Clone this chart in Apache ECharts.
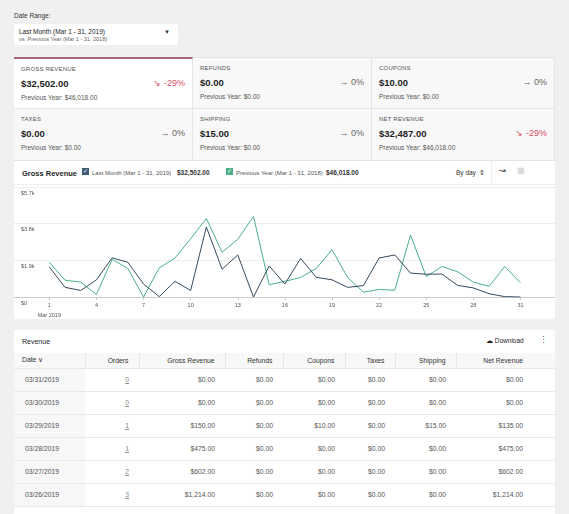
<!DOCTYPE html>
<html>
<head>
<meta charset="utf-8">
<script src="https://cdn.jsdelivr.net/npm/echarts@6/dist/echarts.min.js"></script>
<style>
body{margin:0;width:569px;height:514px;background:#f0f0f0;font-family:"Liberation Sans",Arial,sans-serif;color:#1e1e1e;overflow:hidden;position:relative}
.abs{position:absolute}
.lbl{font-size:6px;color:#555;letter-spacing:.2px}
.val{font-size:9.5px;font-weight:bold}
.prev{font-size:6.5px;color:#555}
.chg{font-size:9px;color:#666;text-align:right}
.neg{color:#d94f6a}
.cell{position:absolute;background:#f8f8f8;border-right:1px solid #e4e4e4;border-bottom:1px solid #e4e4e4;box-sizing:border-box;padding:7px 7px 0 7px}
.cell.sel{background:#fff}
table{border-collapse:collapse;font-size:6.8px;color:#555}
td,th{height:23px;padding:0 10px 0 0;text-align:right;border-bottom:1px solid #e8e8e8;box-sizing:border-box}
th{height:15px;font-weight:normal;color:#333;background:#f8f8f8;border-right:1px solid #e6e6e6}
td.d,th.d{text-align:left;padding-left:8px}
td.d{background:#f7f7f7;padding-left:11px}
td.last,th.last{padding-right:32px;border-right:none}
td u{color:#888}
.lg{font-size:6px;color:#555;top:9px}
.lgb{font-size:6.5px;font-weight:bold;color:#333;top:8px}
</style>
</head>
<body>
<div class="abs" style="left:14px;top:12px;font-size:6.5px;color:#333">Date Range:</div>
<div class="abs" style="left:14px;top:24px;width:164px;height:21px;background:#fff;border-radius:2px">
  <div class="abs" style="left:5px;top:4px;font-size:6.5px;color:#222">Last Month (Mar 1 - 31, 2019)</div>
  <div class="abs" style="left:5px;top:12px;font-size:5.5px;color:#666">vs. Previous Year (Mar 1 - 31, 2018)</div>
  <div class="abs" style="left:167px;top:5px;font-size:6px;color:#333;left:150px">&#9660;</div>
</div>

<div id="summary"></div>

<div class="abs" style="left:14px;top:160px;width:541px;height:158px;background:#fff;border-top:1px solid #e4e4e4">
  <div class="abs" style="left:0;top:0;width:541px;height:23px;border-bottom:1px solid #eee"></div>
  <div class="abs" style="left:8px;top:8px;font-size:7.5px;font-weight:bold">Gross Revenue</div>
  <div class="abs" style="left:68px;top:7px;width:7px;height:7px;background:#3f5c75;color:#fff;font-size:6px;line-height:7px;text-align:center">&#10003;</div>
  <div class="abs lg" style="left:78px">Last Month (Mar 1 - 31, 2019)</div>
  <div class="abs lgb" style="left:163px">$32,502.00</div>
  <div class="abs" style="left:212px;top:7px;width:7px;height:7px;background:#4ab08a;color:#fff;font-size:6px;line-height:7px;text-align:center">&#10003;</div>
  <div class="abs lg" style="left:222px">Previous Year (Mar 1 - 31, 2018)</div>
  <div class="abs lgb" style="left:312px">$46,018.00</div>
  <div class="abs" style="left:442px;top:8px;font-size:6.5px;color:#333">By day &nbsp;&#8661;</div>
  <div class="abs" style="left:477px;top:0;width:1px;height:23px;background:#eee"></div>
  <div class="abs" style="left:485px;top:5px;font-size:8px;color:#333">&#8605;</div>
  <div class="abs" style="left:503px;top:5px;font-size:8px;color:#ccc">&#9638;</div>
  <div id="chart" class="abs" style="left:0;top:23px;width:541px;height:135px"></div>
</div>

<div class="abs" style="left:14px;top:330px;width:541px;height:190px;background:#fff">
  <div class="abs" style="left:8px;top:8px;font-size:7px">Revenue</div>
  <div class="abs" style="left:472px;top:7px;font-size:6.5px">&#9729; Download</div>
  <div class="abs" style="left:525px;top:5px;font-size:9px;color:#555">&#8942;</div>
  <table class="abs" id="tbl" style="left:0;top:23px;width:541px"></table>
</div>

<script>
var days = [1,2,3,4,5,6,7,8,9,10,11,12,13,14,15,16,17,18,19,20,21,22,23,24,25,26,27,28,29,30,31];
var lastMonth = [1560,500,340,890,2030,1800,670,20,810,340,3630,1440,2180,0,1610,670,2000,1020,890,500,590,2020,2180,1240,1180,1190,600,470,170,20,0];
var previousYear = [1800,870,770,130,1950,1480,0,1510,2020,3020,4070,2320,2990,4170,640,810,1010,1480,2450,1010,250,390,350,3210,1060,1580,1310,770,550,1580,740];
var xTicks = [1,4,7,10,13,16,19,22,25,28,31];
var yTicks = ['$0','$1.9k','$3.8k','$5.7k'];

var summaryLabels = ['GROSS REVENUE','REFUNDS','COUPONS','TAXES','SHIPPING','NET REVENUE'];
var summaryValues = ['$32,502.00','$0.00','$10.00','$0.00','$15.00','$32,487.00'];
var summaryPrev = ['$46,018.00','$0.00','$0.00','$0.00','$0.00','$46,018.00'];
var summaryChange = ['-29%','0%','0%','0%','0%','-29%'];

var tableHeads = ['Date \u2228','Orders','Gross Revenue','Refunds','Coupons','Taxes','Shipping','Net Revenue'];
var tableRows = [
  ['03/31/2019','0','$0.00','$0.00','$0.00','$0.00','$0.00','$0.00'],
  ['03/30/2019','0','$0.00','$0.00','$0.00','$0.00','$0.00','$0.00'],
  ['03/29/2019','1','$150.00','$0.00','$10.00','$0.00','$15.00','$135.00'],
  ['03/28/2019','1','$475.00','$0.00','$0.00','$0.00','$0.00','$475.00'],
  ['03/27/2019','2','$602.00','$0.00','$0.00','$0.00','$0.00','$602.00'],
  ['03/26/2019','3','$1,214.00','$0.00','$0.00','$0.00','$0.00','$1,214.00']
];
var colWidths = [71,54,86,58,62,50,61,99];

// summary tiles
var html = '';
for (var i = 0; i < 6; i++) {
  var col = i % 3, row = Math.floor(i / 3);
  var isNeg = summaryChange[i].charAt(0) == '-';
  html += '<div class="cell' + (i == 0 ? ' sel' : '') + '" style="left:' + (14 + col * 179) + 'px;top:' + (57 + row * 52) + 'px;width:' + (col == 2 ? 183 : 179) + 'px;height:52px;' + (i == 0 ? 'border-top:2px solid #a9677f;' : (row == 0 ? 'border-top:1px solid #e4e4e4;' : '')) + '">' +
    '<div class="lbl">' + summaryLabels[i] + '</div>' +
    '<div style="position:relative;margin-top:6px"><div class="val">' + summaryValues[i] + '</div>' +
    '<div class="chg' + (isNeg ? ' neg' : '') + '" style="position:absolute;right:0;top:0">' + (isNeg ? '\u2198 ' : '\u2192 ') + summaryChange[i] + '</div></div>' +
    '<div class="prev" style="margin-top:5px">Previous Year: ' + summaryPrev[i] + '</div></div>';
}
document.getElementById('summary').innerHTML = html;

// table
var t = '<tr>';
for (var c = 0; c < tableHeads.length; c++) {
  var cls = c == 0 ? ' class="d"' : (c == tableHeads.length - 1 ? ' class="last"' : '');
  t += '<th' + cls + ' style="width:' + colWidths[c] + 'px">' + tableHeads[c] + '</th>';
}
t += '</tr>';
tableRows.forEach(function(r){
  t += '<tr>';
  for (var c = 0; c < r.length; c++) {
    if (c == 0) t += '<td class="d">' + r[c] + '</td>';
    else if (c == 1) t += '<td><u>' + r[c] + '</u></td>';
    else if (c == r.length - 1) t += '<td class="last">' + r[c] + '</td>';
    else t += '<td>' + r[c] + '</td>';
  }
  t += '</tr>';
});
document.getElementById('tbl').innerHTML = t;

// chart
var myChart = echarts.init(document.getElementById('chart'));
var option = {
  animation: false,
  grid: {left: 0, right: 0, top: 3, bottom: 22},
  xAxis: {
    type: 'value', min: -1.25, max: 33.2,
    axisLine: {show: true, lineStyle: {color: '#ccc'}},
    splitLine: {show: false},
    axisTick: {show: true, customValues: xTicks, length: 3, lineStyle: {color: '#ccc'}},
    axisLabel: {
      customValues: xTicks, fontSize: 5.5, color: '#555', margin: 5,
      formatter: function(v){ return v == 1 ? '1\n{s|Mar 2019}' : String(v); },
      rich: {s: {fontSize: 5.5, color: '#555', padding: [4, 0, 0, 0]}}
    }
  },
  yAxis: {
    type: 'value', min: 0, max: 5700, interval: 1900,
    axisLine: {show: false}, axisTick: {show: false},
    splitLine: {lineStyle: {color: '#eee'}},
    axisLabel: {
      inside: true, fontSize: 5.5, color: '#555', verticalAlign: 'top', margin: 7, padding: [3, 0, 0, 0],
      formatter: function(v){ return yTicks[Math.round(v / 1900)]; }
    }
  },
  series: [
    {name: 'Previous Year', type: 'line', symbol: 'none', lineStyle: {color: '#4ab08a', width: 1},
     data: days.map(function(d, i){ return [d, previousYear[i]]; })},
    {name: 'Last Month', type: 'line', symbol: 'none', lineStyle: {color: '#34495e', width: 1},
     data: days.map(function(d, i){ return [d, lastMonth[i]]; })}
  ]
};
myChart.setOption(option);
</script>
</body>
</html>
